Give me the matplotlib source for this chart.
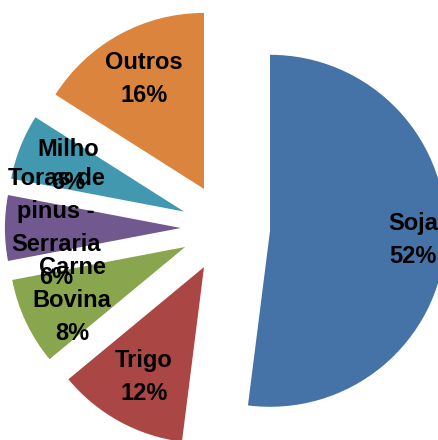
import matplotlib
matplotlib.use("Agg")
import matplotlib.pyplot as plt
import numpy as np

categories = ["Soja", "Trigo", "Carne\nBovina", "Toras de\npinus -\nSerraria", "Milho", "Outros"]
values = [52, 12, 8, 6, 6, 16]
colors = ["#4572A7", "#AA4643", "#89A54E", "#71588F", "#4198AF", "#DB843D"]

fig = plt.figure(figsize=(4.38, 4.40), dpi=100)
ax = fig.add_axes([0, 0, 1, 1])

R = 176
explode = [44.6] * len(values)

wedges, texts = ax.pie(values, explode=explode, radius=R, center=(225.5, 212),
                       startangle=90, counterclock=False, colors=colors,
                       wedgeprops=dict(linewidth=0), frame=True)
ax.set_xlim(0, 438)
ax.set_ylim(0, 440)
ax.set_aspect("equal")
ax.axis("off")

total = sum(values)
dist = [0.815, 0.71, 0.71, 0.71, 0.71, 0.71]
for w, cat, v, d in zip(wedges, categories, values, dist):
    ang = np.deg2rad((w.theta1 + w.theta2) / 2)
    cx, cy = w.center
    x = cx + d * R * np.cos(ang)
    y = cy + d * R * np.sin(ang)
    ax.text(x, y, f"{cat}\n{100 * v / total:.0f}%", ha="center", va="center",
            fontsize=17, fontweight="bold", family="Liberation Sans",
            linespacing=1.55, color="black")

fig.savefig("out.png", dpi=100)
